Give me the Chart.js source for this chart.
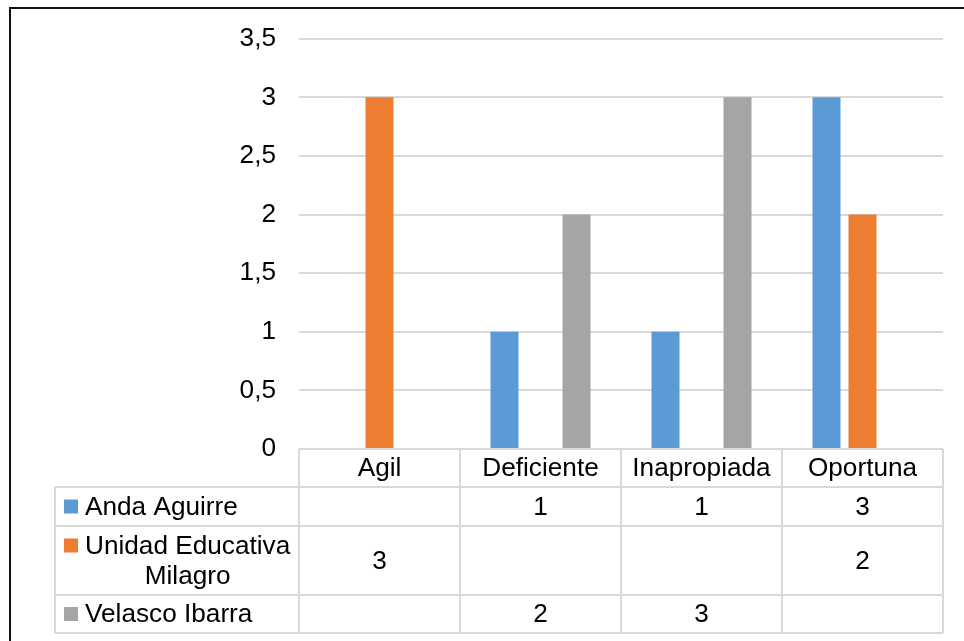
<!DOCTYPE html>
<html>
<head>
<meta charset="utf-8">
<script src="https://cdn.jsdelivr.net/npm/chart.js@4.4.0/dist/chart.umd.min.js"></script>
<style>
  html, body { margin: 0; padding: 0; background: #fff; overflow: hidden; }
  #frame { position: absolute; left: 9px; top: 7px; width: 1000px; height: 700px;
           border-left: 2px solid #111; border-top: 2px solid #111; }
  #wrap { position: absolute; left: 0; top: 0; width: 964px; height: 641px; }
</style>
</head>
<body>
<div id="frame"></div>
<div id="wrap"><canvas id="chart" width="964" height="641"></canvas></div>
<script>
// datos
const categories = ['Agil', 'Deficiente', 'Inapropiada', 'Oportuna'];
const seriesNames = ['Anda Aguirre', 'Unidad Educativa\nMilagro', 'Velasco Ibarra'];
const andaAguirre = [null, 1, 1, 3];
const unidadEducativa = [3, null, null, 2];
const velascoIbarra = [null, 2, 3, null];
const seriesColors = ['#5B9BD5', '#ED7D31', '#A5A5A5'];

const FONT = '26.2px "Liberation Sans", Arial, sans-serif';
const GRID = '#D9D9D9';
const TEXT = '#000';

// tabla de datos debajo del gráfico (como en Excel)
const dataTable = {
  id: 'dataTable',
  afterDraw(chart) {
    const ctx = chart.ctx;
    const area = chart.chartArea;
    const x = chart.scales.x;
    const tableLeft = 55;
    const headerH = 38;
    const rowH = [39, 69, 38];
    const colW = (area.right - area.left) / categories.length;

    ctx.save();
    ctx.strokeStyle = GRID;
    ctx.lineWidth = 2;

    // fila de categorías
    const top = area.bottom;
    const headBottom = top + headerH;
    ctx.beginPath();
    ctx.moveTo(area.left, top); ctx.lineTo(area.right, top);
    for (let i = 0; i <= categories.length; i++) {
      const cx = area.left + i * colW;
      ctx.moveTo(cx, top); ctx.lineTo(cx, headBottom);
    }
    ctx.stroke();

    // filas de series
    let y = headBottom;
    const rowTops = [];
    ctx.beginPath();
    ctx.moveTo(tableLeft, y); ctx.lineTo(area.right, y);
    rowH.forEach(h => {
      rowTops.push(y);
      y += h;
      ctx.moveTo(tableLeft, y); ctx.lineTo(area.right, y);
    });
    ctx.moveTo(tableLeft, headBottom); ctx.lineTo(tableLeft, y);
    for (let i = 0; i <= categories.length; i++) {
      const cx = area.left + i * colW;
      ctx.moveTo(cx, headBottom); ctx.lineTo(cx, y);
    }
    ctx.stroke();

    ctx.font = FONT;
    ctx.fillStyle = TEXT;
    ctx.textBaseline = 'middle';
    ctx.textAlign = 'center';

    categories.forEach((c, i) => {
      ctx.fillText(c, x.getPixelForValue(i), top + headerH / 2 + 1);
    });

    chart.data.datasets.forEach((ds, r) => {
      const rt = rowTops[r];
      const mid = rt + rowH[r] / 2 + 1;
      const lines = seriesNames[r].split('\n');
      const lineH = 30;
      const firstY = mid - (lines.length - 1) * lineH / 2;

      // cuadro de leyenda
      ctx.fillStyle = ds.backgroundColor;
      ctx.fillRect(64, firstY - 8, 14, 14);

      ctx.fillStyle = TEXT;
      const w0 = ctx.measureText(lines[0]).width;
      lines.forEach((ln, k) => {
        if (lines.length === 1) {
          ctx.textAlign = 'left';
          ctx.fillText(ln, 85, firstY);
        } else {
          ctx.textAlign = 'center';
          ctx.fillText(ln, 85 + w0 / 2, firstY + k * lineH);
        }
      });

      ctx.textAlign = 'center';
      ds.data.forEach((v, i) => {
        if (v !== null) ctx.fillText(String(v), x.getPixelForValue(i), mid);
      });
    });
    ctx.restore();
  }
};

const ctx = document.getElementById('chart').getContext('2d');
const chart = new Chart(ctx, {
  type: 'bar',
  data: {
    labels: categories,
    datasets: [andaAguirre, unidadEducativa, velascoIbarra].map((d, i) => ({
      label: seriesNames[i].replace('\n', ' '),
      data: d,
      backgroundColor: seriesColors[i],
      categoryPercentage: 0.671,
      barPercentage: 0.778
    }))
  },
  options: {
    responsive: false,
    animation: false,
    layout: { padding: { top: 38, right: 21, bottom: 192, left: 0 } },
    plugins: { legend: { display: false }, tooltip: { enabled: false } },
    scales: {
      x: { display: false },
      y: {
        min: 0,
        max: 3.5,
        ticks: {
          stepSize: 0.5,
          padding: 23,
          color: TEXT,
          font: { family: '"Liberation Sans", Arial, sans-serif', size: 26.2 },
          callback: v => String(v).replace('.', ',')
        },
        grid: { color: GRID, lineWidth: 2, drawTicks: false },
        border: { display: false },
        afterFit(scale) { scale.width = 299; }
      }
    }
  },
  plugins: [dataTable]
});
</script>
</body>
</html>
